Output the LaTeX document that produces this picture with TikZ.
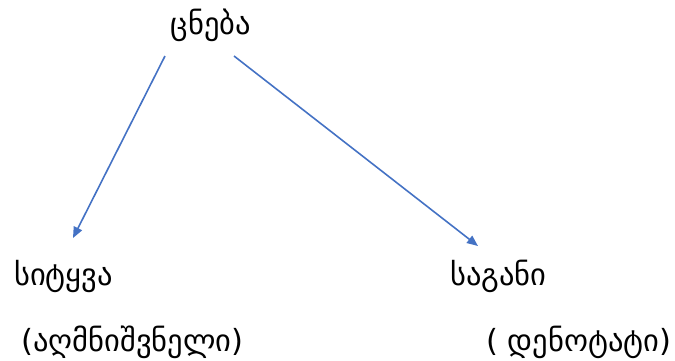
\documentclass[tikz,border=0pt]{standalone}
\usepackage{fontspec}
\setmainfont{DejaVu Sans}
\usetikzlibrary{arrows.meta}
\definecolor{arrowblue}{HTML}{4472C4}
\begin{document}
\begin{tikzpicture}[x=1pt,y=-1pt,
  lbl/.style={inner sep=0pt, font=\fontsize{30.5}{36}\selectfont},
  conn/.style={draw=arrowblue, line width=1.6pt, -{Triangle[length=11pt,width=9pt]}}]
\useasboundingbox (0,0) rectangle (675,360);
\node[lbl] (concept) at (211,25) {ცნება};
\node[lbl, anchor=west] (word) at (14,276) {სიტყვა};
\node[lbl, anchor=west] (signifier) at (21,342) {(აღმნიშვნელი)};
\node[lbl, anchor=west] (object) at (450,276) {საგანი};
\node[lbl, anchor=west] (denotat) at (486,342) {( დენოტატი)};
\coordinate (s1) at (165,56);
\coordinate (e1) at (73,238);
\coordinate (s2) at (234,56);
\coordinate (e2) at (478,246);
\draw[conn] (s1) -- (e1);
\draw[conn] (s2) -- (e2);
\end{tikzpicture}
\end{document}
